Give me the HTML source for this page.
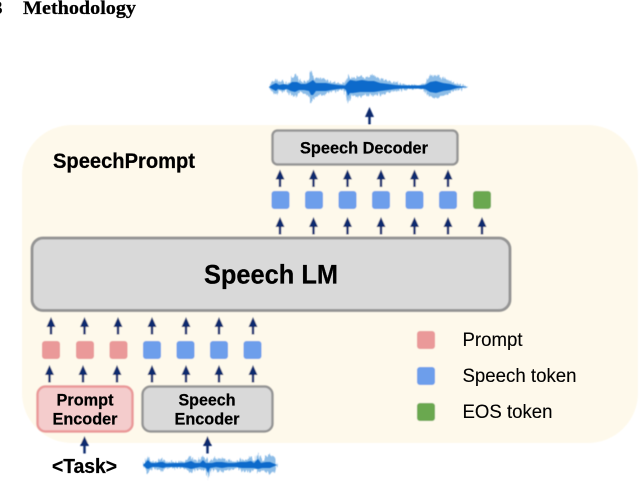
<!DOCTYPE html>
<html>
<head>
<meta charset="utf-8">
<style>
html,body{margin:0;padding:0;background:#fff;width:640px;height:481px;overflow:hidden}
svg{display:block}
text{font-family:"Liberation Sans",sans-serif;fill:#000;stroke:#000;stroke-width:.25px}
.b{font-weight:bold}
.r{stroke-width:.12px}
</style>
</head>
<body>
<svg width="640" height="481" viewBox="0 0 640 481" xmlns="http://www.w3.org/2000/svg">
<defs>
<filter id="s" x="-5%" y="-5%" width="110%" height="110%"><feGaussianBlur stdDeviation="0.45"/></filter>
<filter id="t" x="-5%" y="-5%" width="110%" height="110%"><feGaussianBlur stdDeviation="0.25"/></filter>
<filter id="w" x="-5%" y="-40%" width="110%" height="180%" color-interpolation-filters="sRGB">
<feTurbulence type="fractalNoise" baseFrequency="0.7 0.04" numOctaves="2" seed="4" result="n"/>
<feDisplacementMap in="SourceGraphic" in2="n" scale="7" xChannelSelector="G" yChannelSelector="R"/>
</filter>
<g id="a"><path d="M0 0L4.500 10L1.200 10L1.200 17.500L-1.200 17.500L-1.200 10L-4.500 10Z" fill="#0a2a6e"/></g>
</defs>
<rect width="640" height="481" fill="#fff"/>
<g filter="url(#s)">
<rect x="22" y="125" width="616" height="318" rx="50" fill="#fef9eb"/>

<!-- top waveform -->
<g transform="translate(0,87)">
<path filter="url(#w)" fill="#0b6bcb" opacity=".45" d="M269 0L272-4L275-7L277-9L279-5L283-6L286-3L290-5L293-11L296-12L299-7L303-5L307-6L310-11L312-16L314-11L317-8L321-9L325-8L329-5L335-5L341-3L345-3L347-8L349-11L353-9L358-10L362-11L367-10L371-12L376-9L382-8L388-6L394-5L400-3L408-2L418-2L424-3L427-7L431-11L435-12L439-11L444-8L450-6L456-3L462-2L468 0L462 2L456 3L450 6L444 8L439 10L435 11L431 10L427 7L424 3L418 2L408 2L400 3L394 4L388 6L382 7L376 8L370 8L362 9L356 9L352 9L349 12L348 15L346 8L344 3L340 3L335 4L329 5L325 7L320 8L316 9L313 13L311 15L309 10L306 7L302 6L299 5L296 9L293 10L290 7L286 3L283 5L279 4L277 8L275 7L272 4Z"/>
<path fill="#0b6bcb" d="M269 0L272-2L276-4L279-2L284-3L288-2L292-5L297-5L301-3L306-3L310-5L313-7L316-4L321-4L326-4L331-3L338-2L345-1.500L348-5L350-7L356-6L362-7L368-6L374-6L380-4L388-3L395-2L403-1.500L418-1.500L425-2L430-5L436-6L443-4L450-3L457-1L468 0L457 1L450 3L443 4L436 6L430 5L425 2L418 1.500L403 1.500L395 2L388 3L380 4L374 5L368 5L360 5L353 6L350 6L348 9L346 3L344 1.500L338 2L331 3L326 4L321 4L316 4L313 8L311 8L309 4L304 3L299 3L295 5L291 4L287 2L283 3L278 2L276 4L272 2Z"/>
</g>

<!-- bottom waveform -->
<g transform="translate(0,465)">
<path filter="url(#w)" fill="#0b6bcb" opacity=".45" d="M143 0L146-5L148-9L150-5L153-3L157-3L160-5L163-6L166-3L171-3L175-3L178-2L181-4L184-3L188-7L191-9L194-5L198-4L201-6L203-10L205-7L209-4L213-5L215-7L219-6L223-7L227-4L231-5L235-3L238-5L241-6L244-4L247-6L251-8L254-4L256-6L258-13L260-6L263-4L266-9L269-10L272-8L275-7L277 0L275 5L272 7L270 9L267 7L264 6L261 7L259 8L257 4L254 5L250 7L247 6L243 6L240 5L236 3L232 5L228 5L224 5L220 7L216 5L212 4L210 7L208 15L206 6L203 5L199 4L195 5L191 8L188 6L184 3L180 3L175 3L171 3L166 3L163 6L160 5L156 3L152 4L148 8L146 5Z"/>
<path fill="#0b6bcb" d="M143 0L146-3L148-5L151-2L156-2L160-3L163-3L166-1.500L175-2L180-2L184-2L188-3L191-4L195-2L200-2L203-5L206-2L212-2L216-3L222-3L228-2L234-2L240-3L246-3L251-4L254-2L258-6L261-2L266-3L270-3L277 0L270 3L266 3L262 3L258 4L254 3L248 3L242 3L236 2L228 2L222 3L216 2L210 3L208 8L206 3L200 2L195 3L191 4L188 3L182 2L175 2L166 2L163 3L158 2L152 2L148 4L146 3Z"/>
</g>

<!-- Boxes -->
<rect x="272.500" y="130.500" width="185" height="34" rx="5" fill="#d9d9d9" stroke="#959595" stroke-width="2.500"/>
<rect x="32" y="238" width="478" height="72.500" rx="11" fill="#d9d9d9" stroke="#959595" stroke-width="3"/>
<rect x="37.500" y="386.500" width="95" height="45" rx="8" fill="#f4cccc" stroke="#ea9999" stroke-width="2.500"/>
<rect x="142.500" y="386.500" width="130" height="45" rx="8" fill="#d9d9d9" stroke="#959595" stroke-width="2.500"/>

<!-- Top squares -->
<g fill="#6d9eeb">
<rect x="271.500" y="191" width="18" height="18" rx="3"/>
<rect x="305" y="191" width="18" height="18" rx="3"/>
<rect x="338.500" y="191" width="18" height="18" rx="3"/>
<rect x="372" y="191" width="18" height="18" rx="3"/>
<rect x="405.500" y="191" width="18" height="18" rx="3"/>
<rect x="439" y="191" width="18" height="18" rx="3"/>
</g>
<rect x="473" y="191" width="18" height="18" rx="3" fill="#6aa84f"/>

<!-- Bottom squares -->
<g fill="#ea9999">
<rect x="42" y="341" width="18" height="18" rx="3"/>
<rect x="76" y="341" width="18" height="18" rx="3"/>
<rect x="109.500" y="341" width="18" height="18" rx="3"/>
</g>
<g fill="#6d9eeb">
<rect x="143" y="341" width="18" height="18" rx="3"/>
<rect x="176.500" y="341" width="18" height="18" rx="3"/>
<rect x="210" y="341" width="18" height="18" rx="3"/>
<rect x="243.500" y="341" width="18" height="18" rx="3"/>
</g>

<!-- Legend -->
<rect x="417" y="331" width="18" height="18" rx="3" fill="#ea9999"/>
<rect x="417" y="367" width="18" height="18" rx="3" fill="#6d9eeb"/>
<rect x="417" y="403" width="18" height="18" rx="3" fill="#6aa84f"/>

<!-- Arrows -->
<use href="#a" x="369.500" y="107"/>
<use href="#a" x="280" y="169.500"/>
<use href="#a" x="313.500" y="169.500"/>
<use href="#a" x="347.500" y="169.500"/>
<use href="#a" x="381" y="169.500"/>
<use href="#a" x="414.500" y="169.500"/>
<use href="#a" x="448" y="169.500"/>
<use href="#a" x="280" y="217"/>
<use href="#a" x="313.500" y="217"/>
<use href="#a" x="347.500" y="217"/>
<use href="#a" x="381" y="217"/>
<use href="#a" x="414.500" y="217"/>
<use href="#a" x="448" y="217"/>
<use href="#a" x="482" y="217"/>
<use href="#a" x="51" y="317"/>
<use href="#a" x="84.500" y="317"/>
<use href="#a" x="118" y="317"/>
<use href="#a" x="152" y="317"/>
<use href="#a" x="186" y="317"/>
<use href="#a" x="219" y="317"/>
<use href="#a" x="253" y="317"/>
<use href="#a" x="49.500" y="365"/>
<use href="#a" x="83" y="365"/>
<use href="#a" x="117" y="365"/>
<use href="#a" x="152" y="365"/>
<use href="#a" x="186" y="365"/>
<use href="#a" x="219" y="365"/>
<use href="#a" x="253" y="365"/>
<use href="#a" x="84.500" y="436"/>
<use href="#a" x="207.500" y="436"/>
</g>

<!-- Text -->
<g filter="url(#t)">
<text x="-7" y="14" style="font-family:'Liberation Serif',serif" class="b" font-size="19">3</text>
<text x="23" y="14" style="font-family:'Liberation Serif',serif" class="b" font-size="19" textLength="113" lengthAdjust="spacingAndGlyphs">Methodology</text>
<text x="300" y="153.500" class="b" font-size="17" textLength="128" lengthAdjust="spacingAndGlyphs">Speech Decoder</text>
<text x="204" y="283.500" class="b" font-size="27" textLength="134" lengthAdjust="spacingAndGlyphs">Speech LM</text>
<text x="53" y="168" class="b" font-size="21.500" textLength="142" lengthAdjust="spacingAndGlyphs">SpeechPrompt</text>
<g class="b" font-size="17" text-anchor="middle">
<text x="85" y="405.500" textLength="57" lengthAdjust="spacingAndGlyphs">Prompt</text>
<text x="85" y="424.500" textLength="65" lengthAdjust="spacingAndGlyphs">Encoder</text>
<text x="207" y="405.500" textLength="57" lengthAdjust="spacingAndGlyphs">Speech</text>
<text x="207" y="424.500" textLength="65" lengthAdjust="spacingAndGlyphs">Encoder</text>
</g>
<text x="52" y="473" class="b" font-size="20" textLength="65" lengthAdjust="spacingAndGlyphs">&lt;Task&gt;</text>
<text class="r" x="462.500" y="346" font-size="19" textLength="60" lengthAdjust="spacingAndGlyphs">Prompt</text>
<text class="r" x="462.500" y="382" font-size="19" textLength="114" lengthAdjust="spacingAndGlyphs">Speech token</text>
<text class="r" x="462.500" y="418" font-size="19" textLength="90" lengthAdjust="spacingAndGlyphs">EOS token</text>
</g>
</svg>
</body>
</html>
